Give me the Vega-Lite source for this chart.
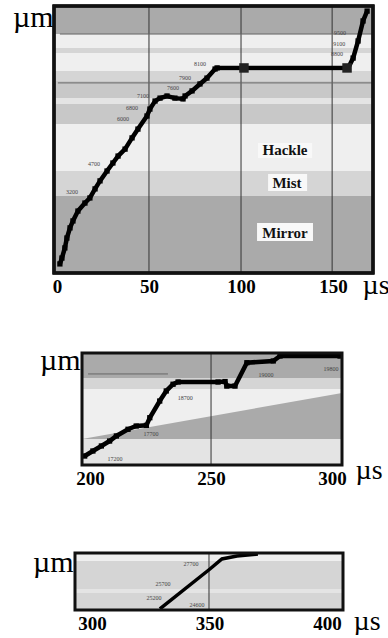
{
  "$schema": "https://vega.github.io/schema/vega-lite/v6.json",
  "padding": {"left": 12, "top": 2, "right": 0, "bottom": 0},
  "background": "white",
  "datasets": {
    "p1bands": [
      {"y": 89.5, "y2": 100, "shade": "dark"},
      {"y": 84.3, "y2": 89.5, "shade": "white"},
      {"y": 82.4, "y2": 84.3, "shade": "light"},
      {"y": 75.7, "y2": 82.4, "shade": "white"},
      {"y": 71.9, "y2": 75.7, "shade": "light"},
      {"y": 65.5, "y2": 71.9, "shade": "mid"},
      {"y": 63.3, "y2": 65.5, "shade": "pale"},
      {"y": 55.8, "y2": 63.3, "shade": "mid"},
      {"y": 38.2, "y2": 55.8, "shade": "white"},
      {"y": 28.8, "y2": 38.2, "shade": "light"},
      {"y": 0, "y2": 28.8, "shade": "dark"}
    ],
    "p1boxes": [
      {"x": 109.2, "x2": 138.6, "y": 43.1, "y2": 48.7},
      {"x": 114.7, "x2": 135.9, "y": 30.7, "y2": 37.1},
      {"x": 108.7, "x2": 139.1, "y": 12.0, "y2": 18.7}
    ],
    "p1grid": [{"x": 50}, {"x": 100}, {"x": 149.5}],
    "p1hrules": [
      {"x": 1.6, "x2": 171.7, "y": 89.5},
      {"x": 0.5, "x2": 171.7, "y": 71.2}
    ],
    "p1line": [
      {"x": 1.6, "y": 3.4}, {"x": 2.7, "y": 5.6}, {"x": 4.3, "y": 9.4}, {"x": 5.4, "y": 13.1},
      {"x": 7.1, "y": 16.9}, {"x": 8.7, "y": 19.5}, {"x": 11.4, "y": 23.2}, {"x": 15.2, "y": 26.2},
      {"x": 17.9, "y": 28.1}, {"x": 20.7, "y": 31.5}, {"x": 23.4, "y": 34.5}, {"x": 27.2, "y": 38.2},
      {"x": 30.4, "y": 41.2}, {"x": 33.2, "y": 43.8}, {"x": 37.0, "y": 46.4}, {"x": 40.8, "y": 50.6},
      {"x": 44.0, "y": 53.9}, {"x": 48.9, "y": 58.8}, {"x": 50.5, "y": 61.4}, {"x": 53.3, "y": 64.4},
      {"x": 56.0, "y": 65.5}, {"x": 59.8, "y": 66.3}, {"x": 64.1, "y": 65.5}, {"x": 68.5, "y": 65.2},
      {"x": 69.6, "y": 66.3}, {"x": 73.4, "y": 68.2}, {"x": 77.7, "y": 70.8}, {"x": 81.5, "y": 73.0},
      {"x": 85.9, "y": 76.4}, {"x": 87.0, "y": 76.8}, {"x": 158.2, "y": 76.8}, {"x": 160.9, "y": 80.5},
      {"x": 163.6, "y": 86.9}, {"x": 166.3, "y": 94.4}, {"x": 168.5, "y": 98.1}
    ],
    "p1blobs": [{"x": 101.6, "y": 76.8}, {"x": 157.6, "y": 76.8}],
    "p1labels": [
      {"x": 8.2, "y": 30.3, "t": "3200"},
      {"x": 20.1, "y": 40.8, "t": "4700"},
      {"x": 35.9, "y": 57.7, "t": "6000"},
      {"x": 40.8, "y": 61.8, "t": "6800"},
      {"x": 46.7, "y": 66.3, "t": "7100"},
      {"x": 63.0, "y": 69.3, "t": "7600"},
      {"x": 69.6, "y": 73.0, "t": "7900"},
      {"x": 77.7, "y": 78.3, "t": "8100"},
      {"x": 152.2, "y": 82.0, "t": "8800"},
      {"x": 153.3, "y": 85.8, "t": "9100"},
      {"x": 153.8, "y": 89.9, "t": "9500"}
    ],
    "p1zones": [
      {"x": 123.9, "y": 46.1, "t": "Hackle"},
      {"x": 125.0, "y": 33.7, "t": "Mist"},
      {"x": 123.9, "y": 15.0, "t": "Mirror"}
    ],
    "p2bands": [
      {"y": 77.7, "y2": 100, "shade": "dark"},
      {"y": 67.9, "y2": 77.7, "shade": "light"},
      {"y": 23.2, "y2": 67.9, "shade": "white"},
      {"y": 0, "y2": 23.2, "shade": "pale"}
    ],
    "p2wedge": [
      {"x": 196.7, "y": 23.2, "y2": 23.2},
      {"x": 304.1, "y": 64.3, "y2": 23.2}
    ],
    "p2grid": [{"x": 250}],
    "p2hrules": [{"x": 199.2, "x2": 232.2, "y": 81.3}],
    "p2line": [
      {"x": 197.8, "y": 8.0}, {"x": 201.2, "y": 12.5}, {"x": 204.7, "y": 17.0}, {"x": 208.1, "y": 21.4},
      {"x": 210.9, "y": 25.9}, {"x": 215.7, "y": 31.9}, {"x": 219.1, "y": 34.8}, {"x": 223.3, "y": 35.4},
      {"x": 224.7, "y": 42.2}, {"x": 228.8, "y": 57.1}, {"x": 231.5, "y": 66.1}, {"x": 234.3, "y": 72.1},
      {"x": 236.4, "y": 74.1}, {"x": 252.9, "y": 74.1}, {"x": 255.8, "y": 74.5}, {"x": 256.5, "y": 70.5},
      {"x": 259.9, "y": 70.5}, {"x": 264.8, "y": 91.3}, {"x": 275.7, "y": 92.9}, {"x": 278.5, "y": 97.3},
      {"x": 303.3, "y": 97.3}
    ],
    "p2labels": [
      {"x": 210.3, "y": 5.4, "t": "17200"},
      {"x": 225.2, "y": 27.7, "t": "17700"},
      {"x": 239.3, "y": 59.8, "t": "18700"},
      {"x": 272.7, "y": 80.4, "t": "19000"},
      {"x": 299.6, "y": 85.7, "t": "19800"}
    ],
    "p3bands": [
      {"y": 86, "y2": 100, "shade": "white"},
      {"y": 36.8, "y2": 86, "shade": "light"},
      {"y": 29.8, "y2": 36.8, "shade": "pale"},
      {"y": 0, "y2": 29.8, "shade": "light"}
    ],
    "p3grid": [{"x": 349.8}],
    "p3line": [
      {"x": 328.9, "y": 1.8}, {"x": 350.2, "y": 71.9}, {"x": 355.3, "y": 89.5},
      {"x": 361.7, "y": 94.7}, {"x": 370.6, "y": 98.2}
    ],
    "p3labels": [
      {"x": 342.1, "y": 80.7, "t": "27700"},
      {"x": 330.2, "y": 45.6, "t": "25700"},
      {"x": 326.4, "y": 21.1, "t": "25200"},
      {"x": 344.7, "y": 8.8, "t": "24600"}
    ]
  },
  "vconcat": [
    {
      "width": 319,
      "height": 267,
      "layer": [
        {
          "data": {"name": "p1bands"},
          "mark": {"type": "rect"},
          "encoding": {
            "x": {"datum": -1.6, "type": "quantitative", "scale": {"domain": [-1.6, 171.7], "nice": false, "zero": false},
              "axis": {"title": "µs", "values": [0, 50, 100, 150], "titleX": 308, "titleY": 20}},
            "x2": {"datum": 171.7},
            "y": {"field": "y", "type": "quantitative", "scale": {"domain": [0, 100], "nice": false, "zero": false}, "axis": {"title": "µm", "titleX": -1, "titleY": 20}},
            "y2": {"field": "y2"},
            "color": {"field": "shade", "type": "nominal", "legend": null,
              "scale": {"domain": ["dark", "mid", "light", "pale", "white"], "range": ["#aaaaaa", "#c8c8c8", "#d5d5d5", "#e4e4e4", "#efefef"]}}
          }
        },
        {
          "data": {"name": "p1boxes"},
          "mark": {"type": "rect", "color": "#f8f8f8"},
          "encoding": {
            "x": {"field": "x", "type": "quantitative"},
            "x2": {"field": "x2"},
            "y": {"field": "y", "type": "quantitative"},
            "y2": {"field": "y2"}
          }
        },
        {
          "data": {"name": "p1grid"},
          "mark": {"type": "rule", "color": "#333333", "strokeWidth": 1},
          "encoding": {
            "x": {"field": "x", "type": "quantitative"},
            "y": {"datum": 0, "type": "quantitative"},
            "y2": {"datum": 100}
          }
        },
        {
          "data": {"name": "p1hrules"},
          "mark": {"type": "rule", "color": "#666666", "strokeWidth": 1},
          "encoding": {
            "x": {"field": "x", "type": "quantitative"},
            "x2": {"field": "x2"},
            "y": {"field": "y", "type": "quantitative"}
          }
        },
        {
          "data": {"name": "p1line"},
          "mark": {"type": "line", "color": "#000000", "strokeWidth": 4.5, "strokeJoin": "miter",
            "point": {"shape": "square", "filled": true, "size": 28, "color": "#000000"}},
          "encoding": {
            "x": {"field": "x", "type": "quantitative"},
            "y": {"field": "y", "type": "quantitative"}
          }
        },
        {
          "data": {"name": "p1blobs"},
          "mark": {"type": "square", "filled": true, "size": 90, "color": "#222222", "opacity": 1},
          "encoding": {
            "x": {"field": "x", "type": "quantitative"},
            "y": {"field": "y", "type": "quantitative"}
          }
        },
        {
          "data": {"name": "p1labels"},
          "mark": {"type": "text", "font": "Liberation Serif", "fontSize": 6, "color": "#444444"},
          "encoding": {
            "x": {"field": "x", "type": "quantitative"},
            "y": {"field": "y", "type": "quantitative"},
            "text": {"field": "t"}
          }
        },
        {
          "data": {"name": "p1zones"},
          "mark": {"type": "text", "font": "Liberation Serif", "fontSize": 15, "fontWeight": "bold", "color": "#111111"},
          "encoding": {
            "x": {"field": "x", "type": "quantitative"},
            "y": {"field": "y", "type": "quantitative"},
            "text": {"field": "t"}
          }
        },
        {
          "data": {"name": "p1grid"},
          "mark": {"type": "rect", "fill": null, "stroke": "#111111", "strokeWidth": 3},
          "encoding": {
            "x": {"datum": -1.6, "type": "quantitative"},
            "x2": {"datum": 171.7},
            "y": {"datum": 0, "type": "quantitative"},
            "y2": {"datum": 100}
          }
        }
      ]
    },
    {
      "width": 288,
      "height": 192,
      "layer": [
        {
          "data": {"name": "p2bands"},
          "mark": {"type": "rect"},
          "encoding": {
            "x": {"datum": 196.7, "type": "quantitative", "scale": {"domain": [185.13, 304.1], "nice": false, "zero": false},
              "axis": {"title": "µs", "values": [200, 250, 300], "titleX": 301, "titleY": 13}},
            "x2": {"datum": 304.1},
            "y": {"field": "y", "type": "quantitative", "scale": {"domain": [0, 171.43], "nice": false, "zero": false}, "axis": {"title": "µm", "titleX": 26, "titleY": 96}},
            "y2": {"field": "y2"},
            "color": {"field": "shade", "type": "nominal", "legend": null,
              "scale": {"domain": ["dark", "mid", "light", "pale", "white"], "range": ["#aaaaaa", "#c8c8c8", "#d5d5d5", "#e4e4e4", "#efefef"]}}
          }
        },
        {
          "data": {"name": "p2wedge"},
          "mark": {"type": "area", "color": "#aaaaaa", "opacity": 1},
          "encoding": {
            "x": {"field": "x", "type": "quantitative"},
            "y": {"field": "y", "type": "quantitative"},
            "y2": {"field": "y2"}
          }
        },
        {
          "data": {"name": "p2grid"},
          "mark": {"type": "rule", "color": "#333333", "strokeWidth": 1},
          "encoding": {
            "x": {"field": "x", "type": "quantitative"},
            "y": {"datum": 0, "type": "quantitative"},
            "y2": {"datum": 100}
          }
        },
        {
          "data": {"name": "p2hrules"},
          "mark": {"type": "rule", "color": "#666666", "strokeWidth": 1},
          "encoding": {
            "x": {"field": "x", "type": "quantitative"},
            "x2": {"field": "x2"},
            "y": {"field": "y", "type": "quantitative"}
          }
        },
        {
          "data": {"name": "p2line"},
          "mark": {"type": "line", "color": "#000000", "strokeWidth": 4.5, "strokeJoin": "miter",
            "point": {"shape": "square", "filled": true, "size": 28, "color": "#000000"}},
          "encoding": {
            "x": {"field": "x", "type": "quantitative"},
            "y": {"field": "y", "type": "quantitative"}
          }
        },
        {
          "data": {"name": "p2labels"},
          "mark": {"type": "text", "font": "Liberation Serif", "fontSize": 6, "color": "#444444"},
          "encoding": {
            "x": {"field": "x", "type": "quantitative"},
            "y": {"field": "y", "type": "quantitative"},
            "text": {"field": "t"}
          }
        },
        {
          "data": {"name": "p2grid"},
          "mark": {"type": "rect", "fill": null, "stroke": "#111111", "strokeWidth": 3},
          "encoding": {
            "x": {"datum": 196.7, "type": "quantitative"},
            "x2": {"datum": 304.1},
            "y": {"datum": 0, "type": "quantitative"},
            "y2": {"datum": 100}
          }
        }
      ]
    },
    {
      "width": 289,
      "height": 145,
      "layer": [
        {
          "data": {"name": "p3bands"},
          "mark": {"type": "rect"},
          "encoding": {
            "x": {"datum": 292.8, "type": "quantitative", "scale": {"domain": [283.87, 406.8], "nice": false, "zero": false},
              "axis": {"title": "µs", "values": [300, 350, 400], "titleX": 299, "titleY": 19}},
            "x2": {"datum": 406.8},
            "y": {"field": "y", "type": "quantitative", "scale": {"domain": [0, 254.39], "nice": false, "zero": false}, "axis": {"title": "µm", "titleX": 19, "titleY": 106}},
            "y2": {"field": "y2"},
            "color": {"field": "shade", "type": "nominal", "legend": null,
              "scale": {"domain": ["dark", "mid", "light", "pale", "white"], "range": ["#aaaaaa", "#c8c8c8", "#d5d5d5", "#e4e4e4", "#efefef"]}}
          }
        },
        {
          "data": {"name": "p3grid"},
          "mark": {"type": "rule", "color": "#333333", "strokeWidth": 1},
          "encoding": {
            "x": {"field": "x", "type": "quantitative"},
            "y": {"datum": 0, "type": "quantitative"},
            "y2": {"datum": 100}
          }
        },
        {
          "data": {"name": "p3line"},
          "mark": {"type": "line", "color": "#000000", "strokeWidth": 3.5},
          "encoding": {
            "x": {"field": "x", "type": "quantitative"},
            "y": {"field": "y", "type": "quantitative"}
          }
        },
        {
          "data": {"name": "p3labels"},
          "mark": {"type": "text", "font": "Liberation Serif", "fontSize": 6, "color": "#444444"},
          "encoding": {
            "x": {"field": "x", "type": "quantitative"},
            "y": {"field": "y", "type": "quantitative"},
            "text": {"field": "t"}
          }
        },
        {
          "data": {"name": "p3grid"},
          "mark": {"type": "rect", "fill": null, "stroke": "#111111", "strokeWidth": 3},
          "encoding": {
            "x": {"datum": 292.8, "type": "quantitative"},
            "x2": {"datum": 406.8},
            "y": {"datum": 0, "type": "quantitative"},
            "y2": {"datum": 100}
          }
        }
      ]
    }
  ],
  "spacing": 0,
  "bounds": "flush",
  "resolve": {"scale": {"color": "shared"}},
  "config": {
    "view": {"stroke": null},
    "axis": {"domain": false, "ticks": false, "grid": false, "labelFont": "Liberation Serif", "titleFont": "Liberation Serif"},
    "axisX": {"labelFontWeight": "bold", "labelFontSize": 19, "labelColor": "#000000", "labelPadding": 4, "labelFlush": false,
      "titleFontSize": 28, "titleFontWeight": "normal", "titleColor": "#000000", "titleAlign": "left", "titleBaseline": "alphabetic", "titleAnchor": "start"},
    "axisY": {"labels": false, "titleAngle": 0, "titleAlign": "right", "titleBaseline": "alphabetic", "titleAnchor": "start",
      "titleFontSize": 30, "titleFontWeight": "normal", "titleColor": "#000000"}
  }
}
